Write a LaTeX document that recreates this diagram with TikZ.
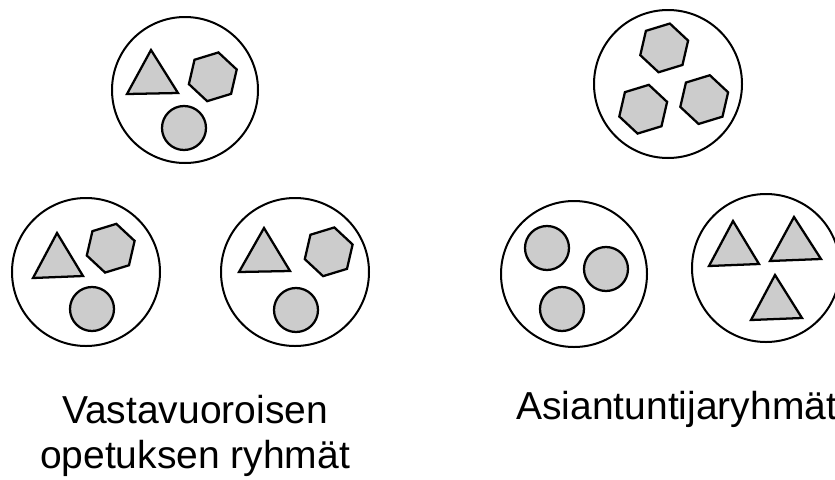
\documentclass[tikz,border=0pt]{standalone}
\usepackage{fontspec}
\setmainfont{Liberation Sans}
\definecolor{shapegray}{HTML}{CCCCCC}
\tikzset{
  group/.style={draw=black, line width=1.5pt, fill=white},
  member/.style={draw=black, line width=1.7pt, fill=shapegray, line join=miter},
  lbl/.style={inner sep=0pt, font=\fontsize{29.25}{33.75}\selectfont}
}
\newcommand{\hexa}[2]{\draw[member] (#1,#2) ++(-17:25) -- ++(-17+120:25) -- ++(-17+180:25) -- ++(-17+240:25) -- ++(-17+300:25) -- ++(-17+360:25) -- cycle;}
\begin{document}
\begin{tikzpicture}[x=0.75pt,y=-0.75pt]
\useasboundingbox (0,0) rectangle (835,479);
\clip (0,0) rectangle (835,479);
% ---- left: reciprocal teaching groups
\draw[group] (185,90) circle (73);
\draw[member] (127,94) -- (178,93) -- (151,50) -- cycle;
\hexa{212.8}{76.8}
\draw[member] (184,128) circle (22);

\draw[group] (86,272) circle (74);
\draw[member] (33,278) -- (83,276) -- (57,233) -- cycle;
\hexa{110.7}{248.2}
\draw[member] (92,309) circle (22);

\draw[group] (295,272) circle (74);
\draw[member] (239,272) -- (290,271) -- (264,228) -- cycle;
\hexa{328.7}{251.8}
\draw[member] (296,310) circle (22);

% ---- right: expert groups
\draw[group] (668,84) circle (74);
\hexa{664.2}{47.9}
\hexa{643.2}{109.2}
\hexa{704.2}{99.6}

\draw[group] (574,274) circle (73);
\draw[member] (547,248) circle (22);
\draw[member] (606,269) circle (22);
\draw[member] (562,309) circle (22);

\draw[group] (766,268) circle (74);
\draw[member] (709,266) -- (759,264) -- (733,221) -- cycle;
\draw[member] (770,261) -- (821,259) -- (794,217) -- cycle;
\draw[member] (751,320) -- (802,318) -- (775,275) -- cycle;

% ---- labels
\node[lbl, anchor=base] (lblA1) at (195,423) {Vastavuoroisen};
\node[lbl, anchor=base] (lblA2) at (195,468) {opetuksen ryhmät};
\node[lbl, anchor=base west] (lblB) at (516,419) {Asiantuntijaryhmät};
\end{tikzpicture}
\end{document}
